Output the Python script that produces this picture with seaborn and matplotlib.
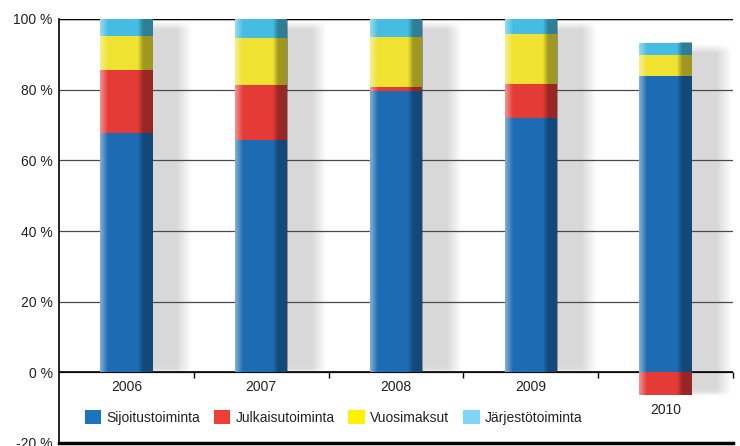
import numpy as np
import matplotlib
matplotlib.use("Agg")
import matplotlib.pyplot as plt
from matplotlib.patches import Patch
import seaborn as sns

# ---- data ----
years = ["2006", "2007", "2008", "2009", "2010"]
sijoitustoiminta = [67.6, 65.8, 79.5, 71.9, 84.0]
julkaisutoiminta = [18.1, 15.6, 1.2, 9.8, -6.4]
vuosimaksut = [9.6, 13.2, 14.3, 14.0, 5.7]
jarjestotoiminta = [4.7, 5.4, 5.0, 4.3, 3.6]
series_names = ["Sijoitustoiminta", "Julkaisutoiminta", "Vuosimaksut", "Järjestötoiminta"]
yticks = [-20, 0, 20, 40, 60, 80, 100]

# ---- style ----
sns.set_theme(style="white")
plt.rcParams['font.family'] = ['Liberation Sans', 'DejaVu Sans']
TXT = "#222222"
bar_colors = ["#1d6cb3", "#e43b36", "#efe231", "#45bde2"]
legend_colors = ["#1b74bc", "#ee3e37", "#fff200", "#80d4f7"]
BAR_W = 0.39

fig = plt.figure(figsize=(7.4, 4.46), dpi=100)
ax = fig.add_axes([59 / 740, 3 / 446, 674 / 740, 424 / 446])

s1 = np.array(sijoitustoiminta, float)
jr = np.array(julkaisutoiminta, float)
pos_red = np.clip(jr, 0, None)
neg_red = np.clip(jr, None, 0)
c1 = s1
c2 = c1 + pos_red
c3 = c2 + np.array(vuosimaksut, float)
c4 = c3 + np.array(jarjestotoiminta, float)

# stacked bars via overlapping seaborn bars (tallest first)
sns.barplot(x=years, y=c4, color=bar_colors[3], width=BAR_W, saturation=1,
            errorbar=None, ax=ax, zorder=3, linewidth=0)
top_patches = list(ax.patches)
sns.barplot(x=years, y=c3, color=bar_colors[2], width=BAR_W, saturation=1,
            errorbar=None, ax=ax, zorder=3, linewidth=0)
sns.barplot(x=years, y=c2, color=bar_colors[1], width=BAR_W, saturation=1,
            errorbar=None, ax=ax, zorder=3, linewidth=0)
sns.barplot(x=years, y=c1, color=bar_colors[0], width=BAR_W, saturation=1,
            errorbar=None, ax=ax, zorder=3, linewidth=0)
sns.barplot(x=years, y=neg_red, color=bar_colors[1], width=BAR_W, saturation=1,
            errorbar=None, ax=ax, zorder=3, linewidth=0)

# cylinder shading + drop shadows, derived from the bar patches
n = 64
t = np.linspace(0, 1, n)
a_w = 0.45 * np.clip(1 - t / 0.15, 0, 1)
a_k = 0.33 * np.clip((t - 0.72) / 0.1, 0, 1)
shade = np.zeros((1, n, 4))
shade[0, :, :3] = np.where(t[:, None] < 0.5, 1.0, 0.0)
shade[0, :, 3] = np.where(t < 0.5, a_w, a_k)

for i, p in enumerate(top_patches):
    x0, w = p.get_x(), p.get_width()
    bottom = min(0.0, neg_red[i])
    top = c4[i]
    ax.imshow(shade, extent=[x0, x0 + w, bottom, top], aspect='auto',
              zorder=4, interpolation='bilinear')
    # shadow
    sx0, sx1 = x0 + 0.5 * w, x0 + w + 0.29
    xs = np.linspace(sx0, sx1, 90)
    hx = np.clip((sx1 - xs) / 0.11, 0, 1)
    y_lo = bottom - 1.0
    ys = np.linspace(y_lo, top, 80)
    vy = np.clip((top - ys) / 2.5, 0, 1) * np.clip((ys - y_lo) / 1.5, 0, 1)
    sh = np.zeros((80, 90, 4))
    sh[..., :3] = 0.85
    sh[..., 3] = (vy[::-1, None] * hx[None, :])
    ax.imshow(sh, extent=[sx0, sx1, y_lo, top], aspect='auto',
              zorder=1, interpolation='bilinear')

# axes styling
ax.set_xlim(-0.5, len(years) - 0.5)
ax.set_ylim(yticks[0], yticks[-1])
ax.set_yticks(yticks)
ax.set_yticklabels([f"{v} %" for v in yticks], fontsize=10, color=TXT)
ax.tick_params(axis='y', length=0, pad=4.5)
ax.set_xticks([])
ax.set_xlabel("")
ax.set_ylabel("")
ax.set_axisbelow('line')
ax.grid(axis='y', color='#4a4a4a', lw=0.9)
ax.axhline(yticks[-1], color='black', lw=1.0, zorder=1.6)
for side in ["top", "right"]:
    ax.spines[side].set_visible(False)
ax.spines["left"].set_color("black")
ax.spines["left"].set_linewidth(1.2)
ax.spines["bottom"].set_color("black")
ax.spines["bottom"].set_linewidth(2.5)

# zero line with tick marks between categories
ax.axhline(0, color='black', lw=1.2, zorder=2.5)
bounds = np.arange(len(years)) + 0.5
ax.plot(bounds, np.zeros_like(bounds), ls='none', marker=3, ms=4, mew=1,
        color='black', zorder=2.5, clip_on=False)

# year labels under each bar
for i, yr in enumerate(years):
    ax.annotate(yr, xy=(i, min(0.0, neg_red[i])), xytext=(0, -5.5),
                textcoords='offset points', ha='center', va='top',
                fontsize=10, color=TXT)

handles = [Patch(facecolor=c, edgecolor='none', label=l)
           for c, l in zip(legend_colors, series_names)]
leg = ax.legend(handles=handles, loc='center', bbox_to_anchor=(0.407, 0.061),
                ncol=4, frameon=False, fontsize=10, handlelength=1.2,
                handleheight=1.2, handletextpad=0.35, columnspacing=1.0)
for txt in leg.get_texts():
    txt.set_color(TXT)

fig.savefig("out.png", dpi=100)
